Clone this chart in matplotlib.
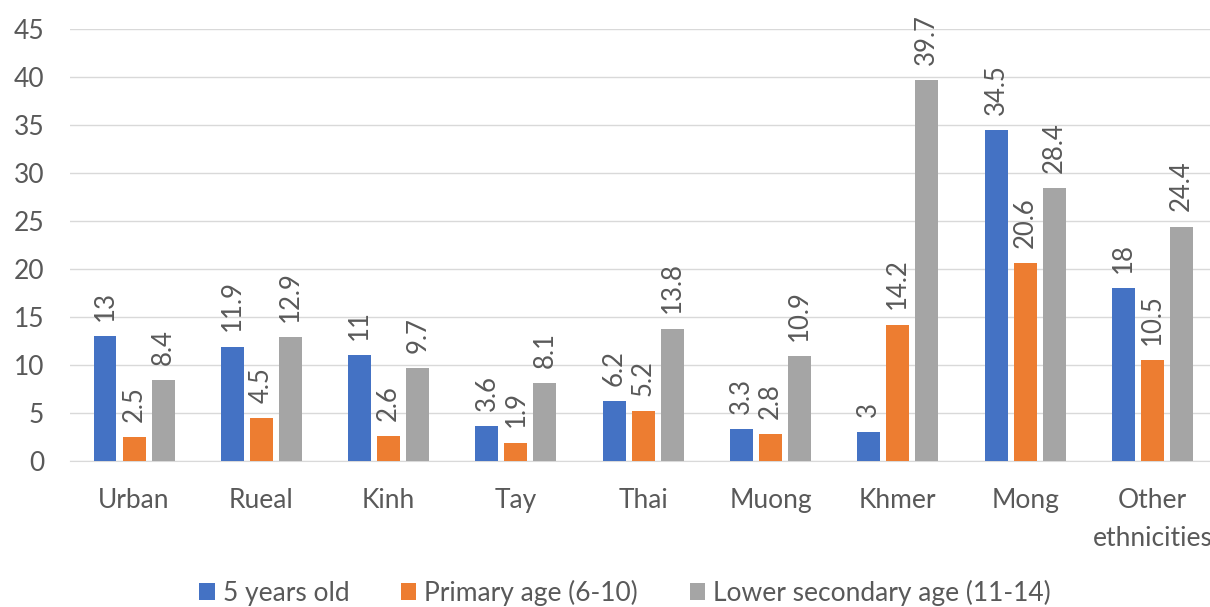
import numpy as np
import matplotlib.pyplot as plt

plt.rcParams['font.family'] = ['Lato', 'DejaVu Sans']

categories = ["Urban", "Rueal", "Kinh", "Tay", "Thai", "Muong", "Khmer", "Mong", "Other\nethnicities"]
series_names = ["5 years old", "Primary age (6-10)", "Lower secondary age (11-14)"]
five_years = [13, 11.9, 11, 3.6, 6.2, 3.3, 3, 34.5, 18]
primary = [2.5, 4.5, 2.6, 1.9, 5.2, 2.8, 14.2, 20.6, 10.5]
lower_sec = [8.4, 12.9, 9.7, 8.1, 13.8, 10.9, 39.7, 28.4, 24.4]
colors = ["#4472C4", "#ED7D31", "#A5A5A5"]
txt = "#595959"

fig = plt.figure(figsize=(12.1, 6.07), dpi=100)
ax = fig.add_axes([70.4 / 1210, 146 / 607, 1145.6 / 1210, 432 / 607])

x = np.arange(len(categories))
width = 0.18
step = 0.228
for i, (vals, name) in enumerate(zip([five_years, primary, lower_sec], series_names)):
    pos = x + (i - 1) * step
    ax.bar(pos, vals, width, color=colors[i], label=name, zorder=3)
    for xp, v in zip(pos, vals):
        ax.annotate(f"{v:g}", (xp, v), xytext=(0, 11), textcoords="offset points",
                    rotation=90, ha="center", va="bottom", fontsize=18.5, color=txt)

ax.set_xlim(-0.5, len(categories) - 0.5)
ax.set_ylim(0, 45)
ax.set_yticks(range(0, 46, 5))
ax.yaxis.grid(True, color="#D9D9D9", linewidth=1, zorder=0)
ax.set_xticks(x)
ax.set_xticklabels(categories, fontsize=19, color=txt, linespacing=1.65)
ax.tick_params(axis="y", labelsize=19, labelcolor=txt, length=0, pad=19)
ax.tick_params(axis="x", length=0, pad=19.5)
for s in ["top", "right", "left"]:
    ax.spines[s].set_visible(False)
ax.spines["bottom"].set_color("#D9D9D9")
ax.set_axisbelow(True)

fig.legend(loc="lower center", bbox_to_anchor=(0.5165, -0.037), ncol=3, frameon=False,
           fontsize=19, handlelength=0.6, handleheight=0.6, columnspacing=1.95,
           handletextpad=0.3, labelcolor=txt)

fig.savefig("out.png", dpi=100)
